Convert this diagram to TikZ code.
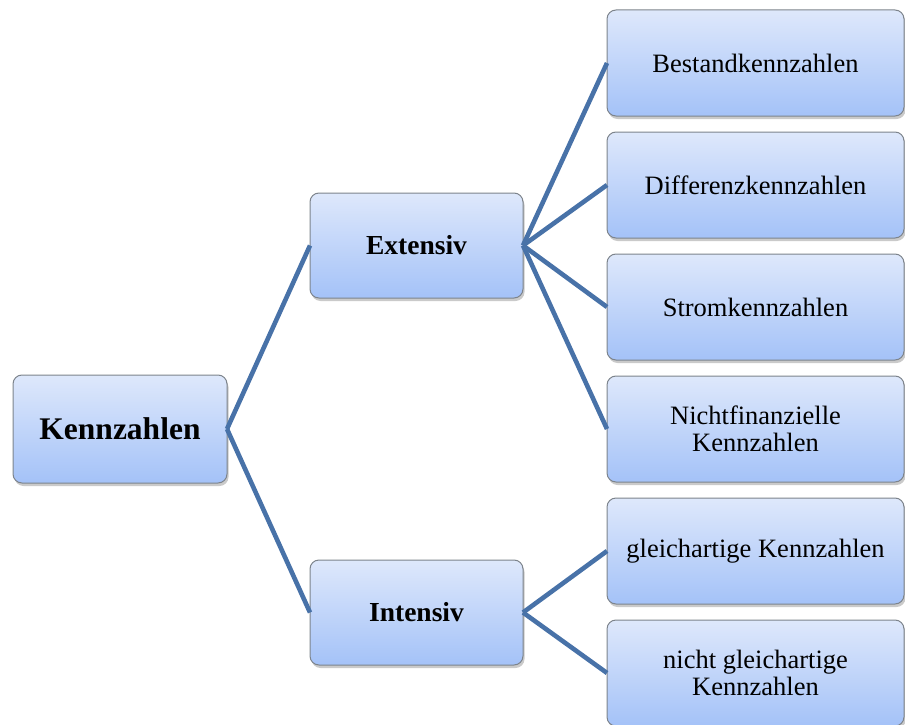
\documentclass[tikz,border=0pt]{standalone}
\usepackage{fontspec}
\setmainfont{Liberation Serif}
\usetikzlibrary{shadows}
\definecolor{boxtop}{RGB}{222,232,251}
\definecolor{boxbot}{RGB}{164,194,248}
\definecolor{boxline}{RGB}{125,132,140}
\definecolor{conn}{RGB}{72,114,168}
\tikzset{
  box/.style={draw=boxline, line width=1pt, rounded corners=9pt,
    top color=boxtop, bottom color=boxbot, align=center, outer sep=0pt,
    inner sep=2pt, text=black,
    drop shadow={opacity=0.35, shadow xshift=1.5pt, shadow yshift=-3pt, fill=black!60}},
  leaf/.style={box, minimum width=297pt, minimum height=106pt, font=\fontsize{26.5}{27}\selectfont},
  mid/.style={box, minimum width=213pt, minimum height=105pt, font=\bfseries\fontsize{27.5}{28}\selectfont},
  rootbox/.style={box, minimum width=214pt, minimum height=108pt, font=\bfseries\fontsize{31.5}{32}\selectfont},
  conn/.style={draw=conn, line width=4.6pt}
}
\begin{document}
\begin{tikzpicture}[x=1pt,y=-1pt]
\useasboundingbox (0,0) rectangle (905,725);
\node[rootbox] (k) at (120,429) {Kennzahlen};
\node[mid] (e) at (416.5,245.5) {Extensiv};
\node[mid] (i) at (416.5,612.5) {Intensiv};
\node[leaf] (l1) at (755.5,63) {Bestandkennzahlen};
\node[leaf] (l2) at (755.5,185) {Differenzkennzahlen};
\node[leaf] (l3) at (755.5,307) {Stromkennzahlen};
\node[leaf] (l4) at (755.5,429) {Nichtfinanzielle\\Kennzahlen};
\node[leaf] (l5) at (755.5,551) {gleichartige Kennzahlen};
\node[leaf] (l6) at (755.5,673) {nicht gleichartige\\Kennzahlen};
\draw[conn] (k.east) -- (e.west);
\draw[conn] (k.east) -- (i.west);
\foreach \n in {l1,l2,l3,l4} \draw[conn] (e.east) -- (\n.west);
\foreach \n in {l5,l6} \draw[conn] (i.east) -- (\n.west);
\end{tikzpicture}
\end{document}
